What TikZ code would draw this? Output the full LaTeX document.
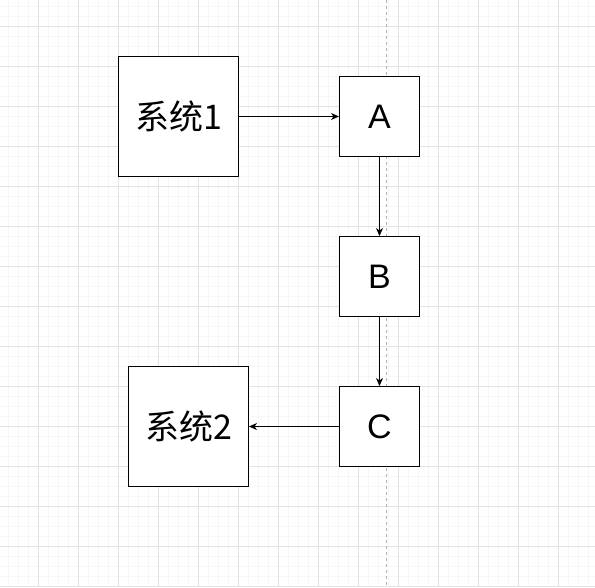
\documentclass[tikz,border=0pt]{standalone}
\usepackage{fontspec}
\setmainfont{Liberation Sans}
\newfontfamily\cjkfont{Noto Sans CJK SC}
\usetikzlibrary{arrows.meta,positioning}
\tikzstyle{sysbox}    = [rectangle, draw, line width=1pt, fill=white,
                         minimum width=120pt, minimum height=120pt, inner sep=0pt,
                         font=\cjkfont\fontsize{34}{40}\selectfont]
\tikzstyle{stepbox}   = [rectangle, draw, line width=1pt, fill=white,
                         minimum size=80pt, inner sep=0pt,
                         font=\fontsize{34}{40}\selectfont]
\tikzstyle{flowarrow} = [-{Stealth[length=8pt,width=7pt,inset=2.5pt]}, line width=0.8pt]
\tikzstyle{gridminor} = [draw=gray!6, line width=0.6pt]
\tikzstyle{gridmajor} = [draw=gray!22, line width=0.8pt]

\begin{document}
\begin{tikzpicture}[x=1pt, y=-1pt, node distance=79pt and 100pt]
\useasboundingbox (0,0) rectangle (595,587);
% Background grid
\foreach \x in {-2,8,...,598} \draw[gridminor] (\x,0) -- (\x,587);
\foreach \y in {6,16,...,590} \draw[gridminor] (0,\y) -- (595,\y);
\foreach \x in {38,78,...,598} \draw[gridmajor] (\x,0) -- (\x,587);
\foreach \y in {26,66,...,590} \draw[gridmajor] (0,\y) -- (595,\y);
% Page break
\draw[gray!60, line width=0.8pt, dash pattern=on 3pt off 3pt] (386,0) -- (386,587);
% Systems and steps
\node[sysbox] (sys1) at (178.5,116.5) {系统1};
\node[stepbox, right=of sys1] (a) {A};
\node[stepbox, below=of a] (b) {B};
\node[stepbox, below=69pt of b] (c) {C};
\node[sysbox, left=90pt of c] (sys2) {系统2};
% Arrows
\draw[flowarrow] (sys1) -- (a);
\draw[flowarrow] (a) -- (b);
\draw[flowarrow] (b) -- (c);
\draw[flowarrow] (c) -- (sys2);
\end{tikzpicture}
\end{document}
